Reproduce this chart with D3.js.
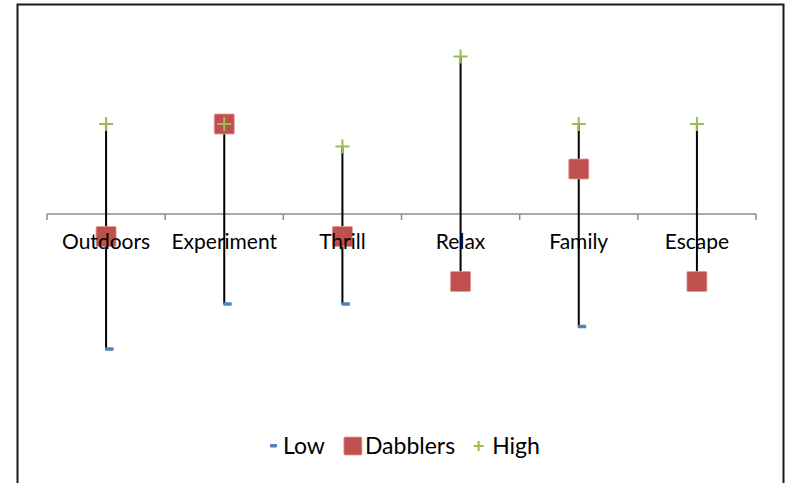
<!DOCTYPE html>
<html>
<head>
<meta charset="utf-8">
<script src="https://cdn.jsdelivr.net/npm/d3@7"></script>
<style>
  html, body { margin: 0; padding: 0; background: #fff; }
  svg { display: block; }
  text { font-family: "Century Gothic", "Lato", sans-serif; fill: #000; }
</style>
</head>
<body>
<div id="chart"></div>
<script>
// Chart values (units: scale steps from the axis)
const categories = ['Outdoors', 'Experiment', 'Thrill', 'Relax', 'Family', 'Escape'];
const lowValues = [-6, -4, -4, -3, -5, -3];
const dabblerValues = [-1, 4, -1, -3, 2, -3];
const highValues = [4, 4, 3, 7, 4, 4];
const seriesNames = ['Low', 'Dabblers', 'High'];

const width = 786;
const height = 483;

const colors = { low: '#4f81bd', dabblers: '#c0504d', high: '#9bbb59' };

const svg = d3.select('#chart')
  .append('svg')
  .attr('width', width)
  .attr('height', height);

// outer frame (bottom edge falls outside the window)
svg.append('rect')
  .attr('x', 17.5)
  .attr('y', 4.5)
  .attr('width', 766)
  .attr('height', 500)
  .attr('fill', 'none')
  .attr('stroke', '#1a1a1a')
  .attr('stroke-width', 2);

const x = d3.scaleBand().domain(categories).range([47, 756]).padding(0);
const y = d3.scaleLinear().domain([-8, 8]).range([394, 34]);
const cx = (c) => x(c) + x.bandwidth() / 2;

const rows = categories.map((c, i) => ({
  cat: c, low: lowValues[i], dab: dabblerValues[i], high: highValues[i]
}));

// category axis at zero, ticks at band edges
const axisG = svg.append('g').attr('class', 'x-axis');
axisG.append('line')
  .attr('x1', x.range()[0]).attr('x2', x.range()[1])
  .attr('y1', y(0)).attr('y2', y(0))
  .attr('stroke', '#8c8c8c').attr('stroke-width', 1.5);
const edges = categories.map((c) => x(c)).concat([x.range()[1]]);
axisG.selectAll('line.tick')
  .data(edges)
  .enter()
  .append('line')
  .attr('class', 'tick')
  .attr('x1', (d) => d).attr('x2', (d) => d)
  .attr('y1', y(0)).attr('y2', y(0) + 6)
  .attr('stroke', '#8c8c8c').attr('stroke-width', 1.5);

// high-low lines
svg.append('g').attr('class', 'hilo')
  .selectAll('line')
  .data(rows)
  .enter()
  .append('line')
  .attr('x1', (d) => cx(d.cat)).attr('x2', (d) => cx(d.cat))
  .attr('y1', (d) => y(d.high)).attr('y2', (d) => y(d.low))
  .attr('stroke', '#000').attr('stroke-width', 2);

// Low: small dash
svg.append('g').attr('class', 'low')
  .selectAll('rect')
  .data(rows)
  .enter()
  .append('rect')
  .attr('x', (d) => cx(d.cat) - 1)
  .attr('y', (d) => y(d.low) - 1.75)
  .attr('width', 8.5)
  .attr('height', 3.5)
  .attr('rx', 0.8)
  .attr('fill', colors.low);

// Dabblers: squares
const sq = 20;
svg.append('g').attr('class', 'dabblers')
  .selectAll('rect')
  .data(rows)
  .enter()
  .append('rect')
  .attr('x', (d) => cx(d.cat) - sq / 2)
  .attr('y', (d) => y(d.dab) - sq / 2)
  .attr('width', sq)
  .attr('height', sq)
  .attr('rx', 1)
  .attr('fill', colors.dabblers)
  .attr('stroke', '#e39a98')
  .attr('stroke-width', 0.8);

// High: plus signs
const plus = (px, py, r) => `M${px - r},${py}H${px + r}M${px},${py - r}V${py + r}`;
svg.append('g').attr('class', 'high')
  .selectAll('path')
  .data(rows)
  .enter()
  .append('path')
  .attr('d', (d) => plus(cx(d.cat), y(d.high), 7))
  .attr('stroke', colors.high)
  .attr('stroke-width', 2)
  .attr('fill', 'none');

// category labels on top
svg.append('g').attr('class', 'labels')
  .selectAll('text')
  .data(categories)
  .enter()
  .append('text')
  .attr('x', (d) => cx(d))
  .attr('y', 249)
  .attr('text-anchor', 'middle')
  .attr('font-size', 21)
  .text((d) => d);

// legend
const legend = svg.append('g').attr('class', 'legend');
const ly = 446;
let lx = 270;
seriesNames.forEach((name, i) => {
  if (i === 0) {
    legend.append('rect')
      .attr('x', lx).attr('y', ly - 2)
      .attr('width', 7).attr('height', 3.5).attr('rx', 0.8)
      .attr('fill', colors.low);
    lx += 13;
  } else if (i === 1) {
    legend.append('rect')
      .attr('x', lx).attr('y', ly - 9)
      .attr('width', 18).attr('height', 18).attr('rx', 1)
      .attr('fill', colors.dabblers)
      .attr('stroke', '#e39a98').attr('stroke-width', 0.8);
    lx += 21;
  } else {
    legend.append('path')
      .attr('d', plus(lx + 4.5, ly, 5))
      .attr('stroke', colors.high).attr('stroke-width', 2);
    lx += 18;
  }
  const t = legend.append('text')
    .attr('x', lx).attr('y', ly + 8)
    .attr('font-size', 23)
    .text(name);
  lx += t.node().getComputedTextLength() + 19;
});
</script>
</body>
</html>
